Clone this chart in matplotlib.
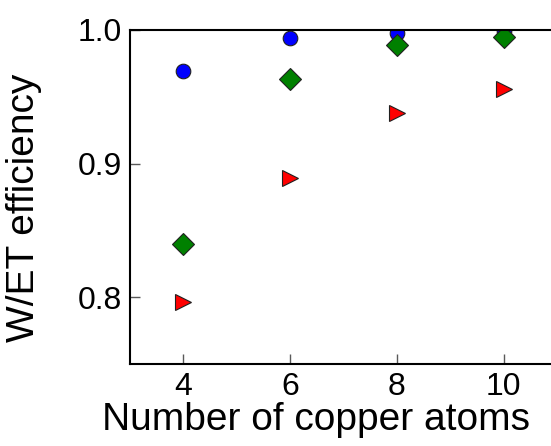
import matplotlib.pyplot as plt

plt.rcParams['font.family'] = ['Liberation Sans', 'DejaVu Sans']

# Number of copper atoms
atoms = [4, 6, 8, 10]
# W/ET efficiency for the three series
eff_circle = [0.969, 0.994, 0.998, 0.999]
eff_diamond = [0.840, 0.963, 0.989, 0.995]
eff_triangle = [0.796, 0.889, 0.938, 0.956]

fig = plt.figure(figsize=(5.51, 4.46), dpi=100)
ax = fig.add_axes([0.236, 0.184, 0.775, 0.749])

ax.plot(atoms, eff_circle, 'o', color='blue', markeredgecolor='#202020',
        markeredgewidth=0.8, markersize=10.5, linestyle='none')
ax.plot(atoms, eff_diamond, 'D', color='green', markeredgecolor='#202020',
        markeredgewidth=0.8, markersize=11.5, linestyle='none')
ax.plot(atoms, eff_triangle, '>', color='red', markeredgecolor='#202020',
        markeredgewidth=0.8, markersize=11, linestyle='none')

ax.set_xlim(3, 11)
ax.set_ylim(0.75, 1.0)
ax.set_xticks([4, 6, 8, 10])
ax.set_yticks([0.8, 0.9, 1.0])
ax.set_yticklabels(['0.8', '0.9', '1.0'])

for s in ax.spines.values():
    s.set_linewidth(1.5)
ax.tick_params(direction='in', length=7, width=1, color='0.35',
               labelsize=23, pad=6)

# the axes runs past the right edge, so place the labels by hand
ax.set_xlabel('Number of copper atoms', fontsize=28)
ax.xaxis.set_label_coords(0.436, -0.115)
ax.set_ylabel('W/ET efficiency', fontsize=28)
ax.yaxis.set_label_coords(-0.205, 0.467)

fig.savefig('out.png', dpi=100)
